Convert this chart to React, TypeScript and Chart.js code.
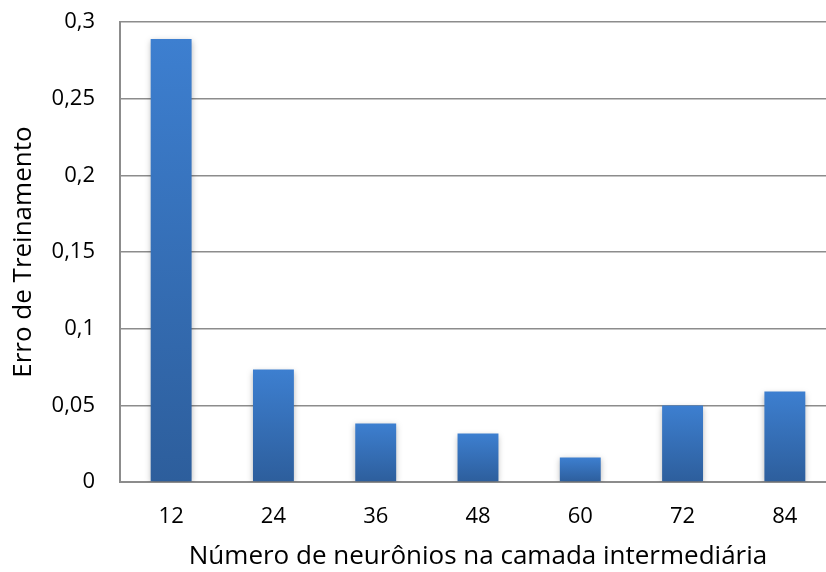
import React, { useEffect, useRef } from "react";
import { Chart, registerables } from "chart.js";

Chart.register(...registerables);

const categories = ["12", "24", "36", "48", "60", "72", "84"];
const trainingError = [0.289, 0.0734, 0.0382, 0.0316, 0.016, 0.0499, 0.059];
const yTicks = [0, 0.05, 0.1, 0.15, 0.2, 0.25, 0.3];
const xTitle = "Número de neurônios na camada intermediária";
const yTitle = "Erro de Treinamento";

const FONT = "'Open Sans', 'Noto Sans', sans-serif";
const SHIFT = 16;

const shadowPlugin = {
  id: "barShadow",
  beforeDatasetsDraw(chart: any) {
    const ctx = chart.ctx;
    ctx.save();
    ctx.shadowColor = "rgba(0,0,0,0.28)";
    ctx.shadowBlur = 6;
    ctx.shadowOffsetX = 0;
    ctx.shadowOffsetY = 2;
  },
  afterDatasetsDraw(chart: any) {
    chart.ctx.restore();
  },
};

export default function App() {
  const ref = useRef<HTMLCanvasElement>(null);

  useEffect(() => {
    if (!ref.current) return;
    const chart = new Chart(ref.current, {
      type: "bar",
      data: {
        labels: categories,
        datasets: [
          {
            data: trainingError,
            barPercentage: 0.4,
            categoryPercentage: 1,
            borderWidth: 0,
            backgroundColor: (c: any) => {
              const ch = c.chart;
              const ys = ch.scales && ch.scales.y;
              if (!ch.chartArea || !ys || c.raw === undefined) return "#3570b8";
              const top = ys.getPixelForValue(c.raw);
              const bottom = ys.getPixelForValue(0);
              if (!isFinite(top) || !isFinite(bottom) || top === bottom) return "#3570b8";
              const g = ch.ctx.createLinearGradient(0, top, 0, bottom);
              g.addColorStop(0, "#3d7fd0");
              g.addColorStop(1, "#2d5e9c");
              return g;
            },
          },
        ],
      },
      options: {
        responsive: false,
        animation: false,
        layout: { padding: { top: 6, right: 0, left: 0, bottom: 0 } },
        plugins: {
          legend: { display: false },
          tooltip: { enabled: false },
        },
        scales: {
          x: {
            grid: { display: false, drawTicks: false },
            border: { display: true, color: "#8c8c8c", width: 2 },
            ticks: {
              color: "#000",
              padding: 22,
              font: { family: FONT, size: 22 },
            },
            title: {
              display: true,
              text: xTitle,
              color: "#000",
              font: { family: FONT, size: 26 },
              padding: { top: 4, bottom: 0 },
            },
            afterFit: (s: any) => {
              s.height = 90;
            },
          },
          y: {
            min: 0,
            max: 0.3,
            afterBuildTicks: (s: any) => {
              s.ticks = yTicks.map((v) => ({ value: v }));
            },
            grid: { color: "#8c8c8c", lineWidth: 1.5, drawTicks: false },
            border: { display: true, color: "#8c8c8c", width: 2 },
            ticks: {
              color: "#000",
              padding: 25,
              font: { family: FONT, size: 22 },
              callback: (v: any) => String(Math.round(Number(v) * 100) / 100).replace(".", ","),
            },
            title: {
              display: true,
              text: yTitle,
              color: "#000",
              font: { family: FONT, size: 26 },
              padding: { top: 8, bottom: 0 },
            },
            afterFit: (s: any) => {
              s.width = 120;
            },
          },
        },
      },
      plugins: [shadowPlugin],
    });
    return () => chart.destroy();
  }, []);

  return (
    <div
      style={{
        position: "fixed",
        left: 0,
        top: 0,
        width: 826,
        height: 572,
        overflow: "hidden",
        background: "#fff",
      }}
    >
      <canvas
        ref={ref}
        width={836}
        height={572 + SHIFT}
        style={{ display: "block", marginTop: -SHIFT }}
      />
    </div>
  );
}
